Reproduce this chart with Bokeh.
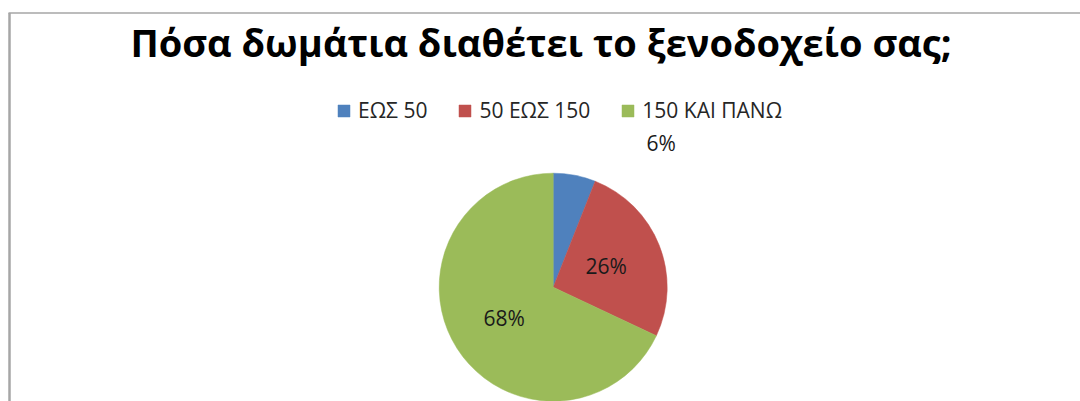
import math
from bokeh.plotting import figure
from bokeh.models import Range1d, Legend, LegendItem, Label
from bokeh.embed import file_html
from bokeh.resources import INLINE

# ---- data ----
title_text = "Πόσα δωμάτια διαθέτει το ξενοδοχείο σας;"
categories = ["ΕΩΣ 50", "50 ΕΩΣ 150", "150 ΚΑΙ ΠΑΝΩ"]
shares = [6, 26, 68]
labels = ["6%", "26%", "68%"]
colors = ["#4F81BD", "#C0504D", "#9BBB59"]

# ---- layout ----
W, H = 1080, 401
cx, cy, R = 552.7, 114.3, 114
label_radius = [1.58, 0.5, 0.51]      # in units of R
label_angle_shift = [26.0, 0.0, 0.0]  # degrees, clockwise

p = figure(width=W, height=H, output_backend="svg", toolbar_location=None,
           x_range=Range1d(0, W), y_range=Range1d(0, H),
           x_axis_location=None, y_axis_location=None, min_border=0)
p.grid.visible = False
p.outline_line_color = None
p.background_fill_color = "white"
p.border_fill_color = "white"

# frame lines
p.segment(x0=[8, 9], y0=[388.5, 0], x1=[W, 9], y1=[388.5, 388.5],
          line_color="#a6a6a6", line_width=[1.5, 2.5])

total = float(sum(shares))
cum = 0.0
renderers = []
for i, (cat, v, col) in enumerate(zip(categories, shares, colors)):
    a0 = cum / total
    a1 = (cum + v) / total
    cum += v
    start = math.pi / 2 - a0 * 2 * math.pi
    end = math.pi / 2 - a1 * 2 * math.pi
    r = p.wedge(x=[cx], y=[cy], radius=R, radius_units="screen",
                start_angle=[start], end_angle=[end], direction="clock",
                fill_color=col, line_color=col, line_width=0.5)
    renderers.append((cat, r))
    mid = (a0 + a1) / 2 * 360 + label_angle_shift[i]
    th = math.radians(mid)
    lx = cx + label_radius[i] * R * math.sin(th)
    ly = cy + label_radius[i] * R * math.cos(th)
    p.add_layout(Label(x=lx, y=ly, text=labels[i], text_font="Open Sans",
                       text_font_size="21px", text_color="#1a1a1a",
                       text_align="center", text_baseline="middle"))

legend = Legend(items=[LegendItem(label=c, renderers=[r]) for c, r in renderers],
                orientation="horizontal", location=(336, 277),
                glyph_width=15, glyph_height=15, label_standoff=7, spacing=30,
                padding=0, margin=0, border_line_alpha=0, background_fill_alpha=0,
                label_text_font="Open Sans", label_text_font_size="21px",
                label_text_color="#262626")
p.add_layout(legend, "center")

p.add_layout(Label(x=540.5, y=360, text=title_text, text_font="Open Sans",
                   text_font_size="38px", text_font_style="bold", text_color="#000000",
                   text_align="center", text_baseline="alphabetic"))

open("out.html", "w").write(file_html(p, INLINE))
